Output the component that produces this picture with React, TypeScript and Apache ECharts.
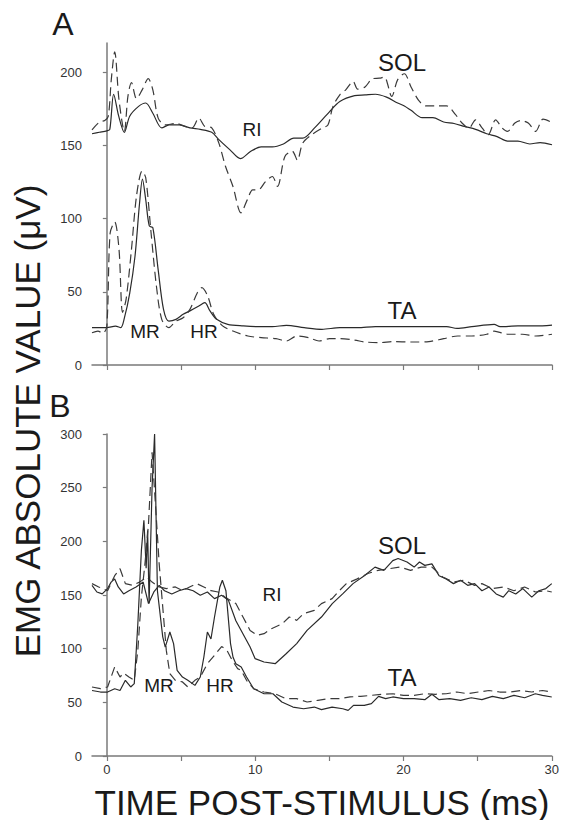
import React, { useEffect, useRef } from "react";
import * as echarts from "echarts";

// ---------- data (time ms, EMG µV) ----------
const xTicks = [0, 5, 10, 15, 20, 25, 30];
const xLabelsB = [0, 10, 20, 30];
const yTicksA = [0, 50, 100, 150, 200];
const yTicksB = [0, 50, 100, 150, 200, 250, 300];

const solSolidA = [[-1,158],[-0.5,159],[0,160],[0.2,161],[0.46,185],[0.8,170],[1.18,159],[1.54,170],[2.14,176.7],[2.62,179],[3.1,172],[3.7,162],[4.2,164],[4.9,164],[5.6,162],[6.3,161],[7.07,159],[7.55,154],[8.3,147],[9.0,141],[9.7,146],[10.4,149],[11.15,149],[11.9,151],[12.6,155],[13.2,155],[14,162],[15,173],[15.7,180],[16.7,184],[17.4,184.5],[18.1,185],[18.85,183],[19.6,179],[20.05,177],[20.5,174],[21.25,169],[21.97,169],[22.7,166],[23.4,165],[24.1,163],[24.85,161],[25.6,158],[26.3,156],[27,153],[27.7,153],[28.5,151],[29.2,152],[30,150.5]];
const solDashA = [[-1,160.7],[-0.5,166],[-0.14,167],[0.1,170],[0.3,195],[0.53,214],[0.82,181],[1.18,159.6],[1.42,183.5],[1.66,193],[2.0,182],[2.38,188],[2.79,195.6],[3.1,188],[3.46,168.7],[3.94,164],[4.66,165],[5.26,163],[5.75,162],[6.2,168.7],[6.6,163],[7.07,162],[7.55,151.6],[8.0,135.6],[8.5,122],[9.04,104],[9.47,113],[9.83,119.7],[10.2,119.7],[10.7,125.4],[11.15,128.8],[11.5,122],[12.0,142.5],[12.5,146],[12.84,140],[13.2,151.6],[13.8,157.3],[14.5,161.8],[14.9,164],[15.24,176.7],[15.7,184.6],[16.1,188],[16.6,193.7],[16.9,188.5],[17.4,190],[17.9,195.6],[18.37,196],[18.7,196.7],[19.2,183.5],[19.6,195],[20.05,199],[20.5,190],[21.0,181],[21.5,177],[22.2,177],[22.9,177],[23.5,171],[23.9,165.7],[24.4,161.8],[24.85,167.5],[25.3,161.8],[25.7,157.3],[26.2,167.5],[26.65,161.8],[27.0,159.6],[27.5,165.3],[27.9,167],[28.4,165.3],[28.9,159.6],[29.4,168],[30,165.7]];
const taSolidA = [[-1,25.5],[0,25.5],[0.58,26.6],[0.94,25.5],[1.18,32],[1.54,49],[1.9,74.5],[2.2,110],[2.4,127],[2.62,113],[2.86,95],[3.1,93.8],[3.46,65],[3.82,38],[4.18,30],[4.66,31.2],[5.14,34.6],[5.6,37],[6.2,40.3],[6.6,42.6],[6.95,37],[7.4,31.2],[8.15,27.8],[9.2,26.7],[10.2,26.2],[11.15,26.2],[12.1,27.1],[13.3,25.5],[14.5,24.4],[15.7,25.5],[16.9,25.5],[18.1,26.2],[19.3,26.2],[20.5,26.2],[21.7,26.2],[22.9,26.2],[23.6,25],[24.6,26.2],[26.1,27.8],[26.5,26.2],[27.7,26.7],[28.9,26.7],[30,27.3]];
const taDashA = [[-1,22],[-0.6,23.2],[-0.26,21.6],[0,26.7],[0.22,90],[0.53,97.7],[0.82,79],[1.06,36],[1.3,45],[1.66,79],[2.0,115.5],[2.38,132.6],[2.62,128],[2.98,90.4],[3.34,54],[3.7,31.2],[4.18,25.5],[4.66,30],[5.14,32.3],[5.6,38],[6.1,49.4],[6.4,52.8],[6.8,47],[7.2,34.6],[7.8,26.7],[8.5,23.2],[9.5,19.8],[10.4,18.7],[11.4,18],[12.1,16.4],[12.8,19.8],[13.6,18.7],[14.3,16.4],[15.0,18],[15.7,18],[16.7,17],[17.4,15.7],[18.4,15.3],[19.3,16],[20.5,15.7],[21.7,16],[22.7,18],[23.65,19.8],[24.6,19.8],[25.6,21],[26.1,23.2],[27.0,21],[28.0,21],[28.9,19.8],[30,21]];

const solSolidB = [[-1,159],[-0.67,152.8],[-0.31,151],[0.05,156],[0.29,162],[0.53,165],[0.77,157.5],[1.13,151],[1.49,154],[1.97,157.5],[2.45,162],[2.81,142],[3.17,152.8],[3.53,159],[3.89,154],[4.38,151],[4.86,154],[5.34,156],[5.82,154],[6.3,149.7],[6.78,152.8],[7.26,146.6],[7.74,149.7],[8.2,145],[8.7,126],[9.66,101.5],[10.0,90.7],[10.6,87.6],[11.35,86],[12.07,95],[12.8,104.7],[13.5,117],[14.47,129.5],[15.2,142],[15.9,151],[16.6,160.6],[17.36,168],[18.08,176],[18.68,173],[19.28,182],[19.64,184],[20.24,180.7],[20.72,176],[21.08,180.7],[21.44,177.6],[21.92,179],[22.4,168],[22.88,165],[23.37,160.6],[23.85,163.7],[24.33,159],[24.8,160.6],[25.29,154],[25.77,157.5],[26.25,151],[26.73,148],[27.1,154],[27.57,151],[28.05,156],[28.65,148],[29.13,154],[29.6,156],[30,160.6]];
const solDashB = [[-1,160.6],[-0.55,157.5],[0.05,154],[0.53,168],[0.89,174.5],[1.25,160.6],[1.73,159],[2.21,162],[2.69,166.8],[3.05,162],[3.53,157.5],[4.01,156],[4.62,157.5],[5.1,154],[5.58,157.5],[6.06,160.6],[6.54,157.5],[7.02,154],[7.5,152.8],[7.98,148],[8.7,142],[9.18,129.5],[9.66,117],[10.14,112.4],[10.6,114],[11.1,118.6],[11.83,123.3],[12.3,129.5],[12.8,126.4],[13.27,132.6],[13.99,135.7],[14.47,142],[15.19,146.6],[15.67,154],[16.15,160.6],[16.88,165],[17.6,170],[18.3,173],[19.04,174.5],[19.76,176],[20.48,173],[21.2,176],[21.92,176],[22.64,166.8],[23.37,162],[24.09,163.7],[24.8,159],[25.29,160.6],[26.0,156],[26.73,157.5],[27.45,154],[28.17,157.5],[28.9,152.8],[29.6,154],[30,152.8]];
const taSolidB = [[-1,61],[-0.43,59.6],[0.05,59.6],[0.53,62.7],[0.89,61],[1.25,70.5],[1.61,64.3],[1.85,67.4],[2.09,123],[2.33,191.6],[2.5,219.6],[2.65,175],[2.75,210],[2.85,142],[3.05,250],[3.22,300],[3.41,154],[3.77,111],[3.94,101.5],[4.25,115.5],[4.5,104.7],[4.74,79.8],[5.1,73.6],[5.46,70.5],[5.94,65.8],[6.3,73.6],[6.54,92],[6.78,115.5],[7.02,109],[7.26,129.5],[7.62,157.5],[7.79,163.7],[8.03,154],[8.34,104.7],[8.51,92],[8.7,86],[9.06,83],[9.42,73.6],[9.9,62.7],[10.6,58],[11.2,58],[11.8,50.3],[12.55,45.6],[13.27,44],[13.99,45.6],[14.47,43.2],[15.19,45.6],[15.91,44],[16.27,42.5],[16.63,47.2],[17.36,47.2],[17.84,48.8],[18.32,55.6],[18.8,53.4],[19.28,55],[20.0,53.4],[20.72,53.4],[21.44,52.5],[21.92,57.5],[22.4,52.5],[23.12,53.4],[23.85,51.9],[24.57,54.3],[25.29,52.5],[26.0,55.6],[26.73,53.4],[27.45,56.5],[28.17,54.3],[28.89,58],[29.37,56.5],[30,55]];
const taDashB = [[-1,64.3],[-0.43,62.7],[0.05,64.3],[0.29,73.6],[0.53,83],[0.89,73.6],[1.13,77.3],[1.49,73.6],[1.85,70.5],[2.09,98.4],[2.33,148],[2.57,179],[2.81,216.5],[3.05,283],[3.29,232],[3.53,179],[3.77,138.8],[4.01,98.4],[4.25,76.7],[4.62,70.5],[5.1,69],[5.46,64.3],[5.94,70.5],[6.3,73.6],[6.78,86],[7.26,93.8],[7.74,102],[8.1,98.4],[8.46,89],[8.82,81.4],[9.06,79.8],[9.42,70.5],[9.9,62.7],[10.6,59.6],[11.35,58],[12.07,53.4],[12.8,53.4],[13.5,50.3],[14.23,51.9],[14.95,53.4],[15.67,53.4],[16.4,55],[17.12,55.6],[17.84,56.5],[18.56,57.5],[19.28,58],[20.0,56.5],[20.72,56.5],[21.44,58],[22.16,57.5],[22.88,58],[23.6,59.6],[24.33,58],[25.05,59.6],[25.77,61],[26.49,59.6],[27.2,59.6],[27.93,61],[28.65,59.6],[29.37,61],[30,59.6]];

const FONT = '"Liberation Sans", Arial, Helvetica, sans-serif';

export default function App() {
  const ref = useRef<HTMLDivElement>(null);
  useEffect(() => {
    if (!ref.current) return;
    const chart = echarts.init(ref.current, undefined, { renderer: "svg" });
    const axisLine = { lineStyle: { color: "#7a7a7a", width: 1.5 } };
    const mkX = (gi: number, labels: boolean) => ({
      type: "value", gridIndex: gi, min: -1, max: 30,
      axisLine: { ...axisLine, onZero: false },
      axisTick: { show: true, length: 5, customValues: xTicks, lineStyle: { color: "#7a7a7a", width: 1.2 } },
      axisLabel: labels
        ? { show: true, customValues: xLabelsB, fontSize: 13, color: "#333", fontFamily: FONT, margin: 7 }
        : { show: false },
      splitLine: { show: false },
    });
    const mkY = (gi: number, max: number, ticks: number[]) => ({
      type: "value", gridIndex: gi, min: 0, max,
      axisLine: { show: true, ...axisLine },
      axisTick: { show: true, length: 4, customValues: ticks, lineStyle: { color: "#7a7a7a", width: 1.2 } },
      axisLabel: { show: true, customValues: ticks, fontSize: 13, color: "#333", fontFamily: FONT, margin: 10 },
      splitLine: { show: false },
    });
    const line = (data: number[][], gi: number, dashed: boolean, smooth: number | boolean) => ({
      type: "line", xAxisIndex: gi, yAxisIndex: gi, data, showSymbol: false, symbol: "none",
      smooth, clip: true,
      lineStyle: { color: dashed ? "#3a3a3a" : "#2a2a2a", width: 1.2, type: dashed ? [9, 5] : "solid" },
    });
    const txt = (x: number, y: number, text: string, size: number, rotation = 0) => ({
      type: "text", x, y, rotation,
      style: { text, fontSize: size, fontFamily: FONT, fill: "#1a1a1a", textAlign: "center", textVerticalAlign: "middle" },
    });
    chart.setOption({
      animation: false,
      backgroundColor: "#ffffff",
      grid: [
        { left: 92, top: 43, width: 460, height: 322 },
        { left: 92, top: 434, width: 460, height: 322 },
      ],
      xAxis: [mkX(0, false), mkX(1, true)],
      yAxis: [mkY(0, 220, yTicksA), mkY(1, 300, yTicksB)],
      series: [
        line(solSolidA, 0, false, 0.3),
        line(solDashA, 0, true, 0.3),
        line(taSolidA, 0, false, 0.3),
        line(taDashA, 0, true, 0.3),
        line(solSolidB, 1, false, false),
        line(solDashB, 1, true, false),
        line(taSolidB, 1, false, false),
        line(taDashB, 1, true, false),
      ],
      graphic: [
        txt(63, 24, "A", 32),
        txt(60, 406, "B", 32),
        txt(27, 421, "EMG ABSOLUTE VALUE (μV)", 35, Math.PI / 2),
        txt(322, 802, "TIME POST-STIMULUS (ms)", 35),
        txt(402, 62, "SOL", 24),
        txt(252, 129, "RI", 19),
        txt(402, 310, "TA", 24),
        txt(145, 331, "MR", 19),
        txt(204, 331, "HR", 19),
        txt(402, 545, "SOL", 24),
        txt(272, 594, "RI", 19),
        txt(402, 677, "TA", 24),
        txt(159, 685, "MR", 19),
        txt(220, 685, "HR", 19),
      ],
    });
    return () => chart.dispose();
  }, []);
  return (
    <div
      ref={ref}
      style={{ position: "absolute", left: 0, top: 0, width: 562, height: 820, background: "#fff" }}
    />
  );
}
